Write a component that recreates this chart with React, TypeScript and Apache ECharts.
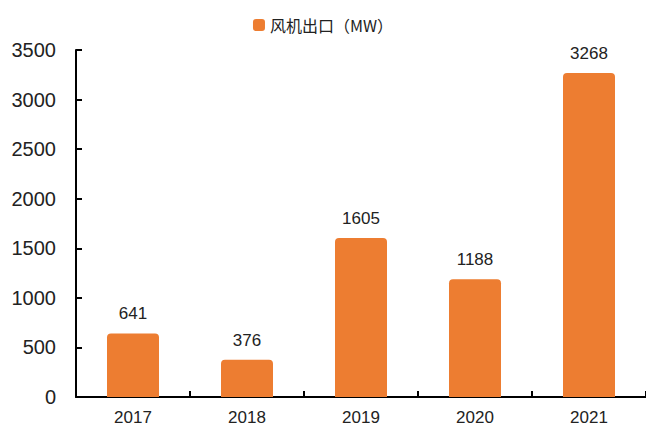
import React, { useEffect, useRef } from "react";
import * as echarts from "echarts";

const categories = ["2017", "2018", "2019", "2020", "2021"];
const values = [641, 376, 1605, 1188, 3268];
const seriesName = "风机出口（MW）";

export default function App() {
  const ref = useRef<HTMLDivElement>(null);
  useEffect(() => {
    const chart = echarts.init(ref.current!, null, { renderer: "svg" });
    const font = "Liberation Sans, Arial, sans-serif";
    chart.setOption({
      animation: false,
      legend: {
        top: 12,
        left: "center",
        itemWidth: 12,
        itemHeight: 12,
        itemGap: 4,
        icon: "roundRect",
        textStyle: { fontFamily: "Noto Sans CJK SC, " + font, fontSize: 16, color: "#222" },
        data: [seriesName],
      },
      grid: { left: 76, right: 0, top: 50, bottom: 30, containLabel: false },
      xAxis: {
        type: "category",
        data: categories,
        axisLine: { lineStyle: { color: "#000", width: 2 } },
        axisTick: { show: true, inside: true, length: 6, lineStyle: { color: "#000", width: 2 } },
        axisLabel: { fontFamily: font, fontSize: 17, color: "#222", margin: 12 },
      },
      yAxis: {
        type: "value",
        min: 0,
        max: 3500,
        interval: 500,
        axisLine: { show: true, lineStyle: { color: "#000", width: 2 } },
        axisTick: { show: true, inside: true, length: 6, lineStyle: { color: "#000", width: 2 } },
        splitLine: { show: false },
        axisLabel: {
          fontFamily: font,
          fontSize: 20,
          color: "#222",
          margin: 20,
          formatter: (v: number) => String(v),
        },
      },
      series: [
        {
          name: seriesName,
          type: "bar",
          data: values,
          barWidth: 52,
          itemStyle: { color: "#ED7D31", borderRadius: [4, 4, 0, 0] },
          label: {
            show: true,
            position: "top",
            distance: 11,
            fontFamily: font,
            fontSize: 17,
            color: "#222",
          },
        },
      ],
    });
    return () => chart.dispose();
  }, []);
  return <div ref={ref} style={{ width: 646, height: 427, position: "absolute", left: 0, top: 0 }} />;
}
